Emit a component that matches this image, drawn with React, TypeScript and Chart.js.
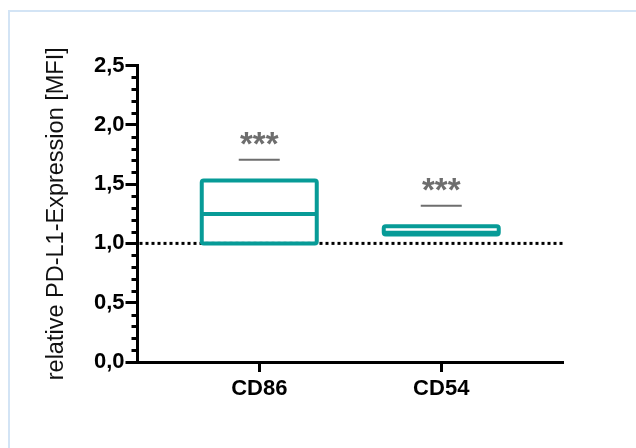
import React, { useEffect, useRef } from "react";
import { Chart, registerables } from "chart.js";

Chart.register(...registerables);

// ---- data ----
const categories = ["CD86", "CD54"];
const boxMin = [1.0, 1.075];
const boxMedian = [1.247, 1.09];
const boxMax = [1.53, 1.145];
const sigLevel = [1.705, 1.318];
const sigLabels = ["***", "***"];
const referenceValue = 1.0;
const yMajorLabels = ["0,0", "0,5", "1,0", "1,5", "2,0", "2,5"];
const yTitle = "relative PD-L1-Expression [MFI]";

// ---- style ----
const TEAL = "#079b97";
const GRAY = "#6e6e6e";
const FONT = "'Liberation Sans', Arial, sans-serif";
const BOX_HALF_PX = 57.5;
const SIG_HALF_PX = 20.5;

const overlayPlugin = {
  id: "boxOverlay",
  beforeDatasetsDraw(chart: any) {
    const { ctx, chartArea, scales } = chart;
    const x = scales.x;
    const y = scales.y;
    ctx.save();
    ctx.beginPath();
    ctx.setLineDash([3, 3]);
    ctx.lineWidth = 3;
    ctx.strokeStyle = "#000";
    const ry = y.getPixelForValue(referenceValue);
    ctx.moveTo(chartArea.left + 2, ry);
    ctx.lineTo(chartArea.right, ry);
    ctx.stroke();
    ctx.restore();
    categories.forEach((_, i) => {
      const cx = x.getPixelForValue(i);
      const top = y.getPixelForValue(boxMax[i]);
      const bot = y.getPixelForValue(boxMin[i]);
      ctx.save();
      ctx.lineWidth = 4;
      ctx.strokeStyle = TEAL;
      ctx.beginPath();
      ctx.roundRect(cx - BOX_HALF_PX, top, 2 * BOX_HALF_PX, bot - top, 2);
      ctx.stroke();
      ctx.restore();
    });
  },
  afterDatasetsDraw(chart: any) {
    const { ctx, scales } = chart;
    const x = scales.x;
    const y = scales.y;
    categories.forEach((_, i) => {
      const cx = x.getPixelForValue(i);
      const sy = y.getPixelForValue(sigLevel[i]);
      ctx.save();
      ctx.strokeStyle = GRAY;
      ctx.lineWidth = 2;
      ctx.beginPath();
      ctx.moveTo(cx - SIG_HALF_PX, sy);
      ctx.lineTo(cx + SIG_HALF_PX, sy);
      ctx.stroke();
      ctx.fillStyle = GRAY;
      ctx.font = `bold 33px ${FONT}`;
      ctx.textAlign = "center";
      ctx.textBaseline = "alphabetic";
      ctx.fillText(sigLabels[i], cx, sy - 5);
      ctx.restore();
    });
  },
  afterDraw(chart: any) {
    const { ctx, chartArea, scales } = chart;
    const y = scales.y;
    ctx.save();
    ctx.strokeStyle = "#000";
    ctx.lineWidth = 3;
    y.ticks.forEach((t: any) => {
      const v = t.value;
      const isMajor = Math.abs(v * 2 - Math.round(v * 2)) < 1e-6;
      if (isMajor) return;
      const py = Math.round(y.getPixelForValue(v)) + 0.5;
      ctx.beginPath();
      ctx.moveTo(chartArea.left - 6, py);
      ctx.lineTo(chartArea.left, py);
      ctx.stroke();
    });
    ctx.restore();
  },
};

export default function App() {
  const ref = useRef<HTMLCanvasElement | null>(null);
  useEffect(() => {
    if (!ref.current) return;
    const chart = new Chart(ref.current, {
      type: "scatter",
      data: {
        datasets: [
          {
            data: categories.map((_, i) => ({ x: i, y: boxMedian[i] })),
            pointStyle: "line",
            pointRadius: BOX_HALF_PX,
            pointHoverRadius: BOX_HALF_PX,
            borderColor: TEAL,
            backgroundColor: TEAL,
            pointBorderWidth: 4,
            borderWidth: 4,
          } as any,
        ],
      },
      options: {
        responsive: false,
        animation: false,
        events: [],
        layout: { padding: { left: 0, right: 73, top: 65.5, bottom: 0 } },
        plugins: {
          legend: { display: false },
          tooltip: { enabled: false },
        },
        scales: {
          x: {
            type: "linear",
            min: -0.669,
            max: 1.669,
            afterBuildTicks: (scale: any) => {
              scale.ticks = categories.map((_, i) => ({ value: i }));
            },
            afterFit: (scale: any) => {
              scale.height = 86;
            },
            grid: {
              drawOnChartArea: false,
              drawTicks: true,
              tickLength: 10,
              tickWidth: 3,
              tickColor: "#000",
            },
            border: { display: true, color: "#000", width: 3 },
            ticks: {
              autoSkip: false,
              padding: 4,
              color: "#000",
              font: { family: FONT, size: 22, weight: "bold" },
              callback: (v: any) => categories[Math.round(Number(v))] ?? "",
            },
          },
          y: {
            type: "linear",
            min: 0,
            max: 2.5,
            afterFit: (scale: any) => {
              scale.width = 137.5;
            },
            grid: {
              drawOnChartArea: false,
              drawTicks: true,
              tickLength: 12,
              tickWidth: 3,
              tickColor: (c: any) => {
                const v = c.tick ? c.tick.value : 0;
                return Math.abs(v * 2 - Math.round(v * 2)) < 1e-6 ? "#000" : "rgba(0,0,0,0)";
              },
            },
            border: { display: true, color: "#000", width: 3 },
            ticks: {
              stepSize: 0.1,
              autoSkip: false,
              padding: 1,
              color: "#000",
              font: { family: FONT, size: 22, weight: "bold" },
              callback: (v: any) => {
                const n = Number(v);
                if (Math.abs(n * 2 - Math.round(n * 2)) < 1e-6) {
                  return yMajorLabels[Math.round(n * 2)] ?? "";
                }
                return "";
              },
            },
            title: {
              display: true,
              text: yTitle,
              color: "#111",
              font: { family: FONT, size: 23.5, weight: "normal" },
              padding: { top: 42, bottom: 0 },
            },
          },
        },
      },
      plugins: [overlayPlugin],
    } as any);
    return () => chart.destroy();
  }, []);

  return (
    <div style={{ position: "absolute", left: 0, top: 0, width: 636, height: 448, overflow: "hidden", background: "#fff" }}>
      <div
        style={{
          position: "absolute",
          left: 8,
          top: 10,
          width: 700,
          height: 500,
          borderTop: "2px solid #d3e4f5",
          borderLeft: "2px solid #d3e4f5",
        }}
      />
      <canvas ref={ref} width={636} height={448} style={{ position: "absolute", left: 0, top: 0 }} />
    </div>
  );
}
